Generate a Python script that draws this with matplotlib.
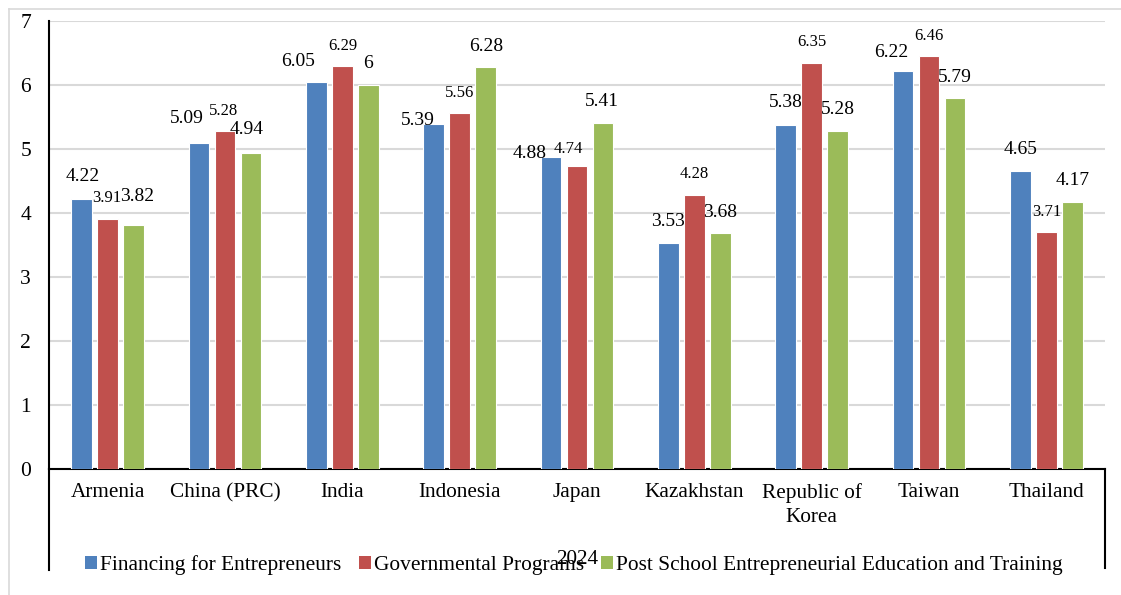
import matplotlib
matplotlib.use("Agg")
import matplotlib.pyplot as plt
import numpy as np
from matplotlib.lines import Line2D
from matplotlib.patches import Patch

categories = ["Armenia", "China (PRC)", "India", "Indonesia", "Japan",
              "Kazakhstan", "Republic of\nKorea", "Taiwan", "Thailand"]
financing = [4.22, 5.09, 6.05, 5.39, 4.88, 3.53, 5.38, 6.22, 4.65]
government = [3.91, 5.28, 6.29, 5.56, 4.74, 4.28, 6.35, 6.46, 3.71]
education = [3.82, 4.94, 6.00, 6.28, 5.41, 3.68, 5.28, 5.79, 4.17]
series_names = ["Financing for Entrepreneurs", "Governmental Programs",
                "Post School Entrepreneurial Education and Training"]
year_label = "2024"

colors = ["#4F81BD", "#C0504D", "#9BBB59"]
label_sizes = [14, 12, 14]
# manual nudges of the data labels (pixels, relative to the bar top centre)
label_dx = [[1, -12, -18, -16, -21, 0, 0, -12, 0],
            [-1, -1, 0, 0, -9, 0, 0, 0, 0],
            [3, -4, 0, 0, -1, 0, 0, 0, 0]]
label_dy = [[22, 25, 20, 4, 3, 22, 22, 18, 22],
            [21, 20, 20, 20, 17, 21, 21, 20, 20],
            [28, 23, 21, 21, 21, 21, 22, 21, 22]]

plt.rcParams["font.family"] = ["Liberation Serif", "DejaVu Serif"]

fig = plt.figure(figsize=(11.21, 5.95), dpi=100)
ax = fig.add_axes([49 / 1121, 126 / 595, 1056 / 1121, 448 / 595])

x = np.arange(len(categories))
width = 0.175
step = 0.222
for i, vals in enumerate([financing, government, education]):
    pos = x + (i - 1) * step
    ax.bar(pos, vals, width=width, color=colors[i], edgecolor="white",
           linewidth=0.8, zorder=3)
    for j, v in enumerate(vals):
        ax.annotate(f"{v:g}", (pos[j], v), xytext=(label_dx[i][j], label_dy[i][j]),
                    textcoords="offset pixels", ha="center", va="center",
                    fontsize=label_sizes[i], color="black")

ax.set_xlim(-0.5, len(categories) - 0.5)
ax.set_ylim(0, 7)
ax.set_yticks(range(8))
ax.yaxis.grid(True, color="#D9D9D9", linewidth=1.5, zorder=0)
ax.set_axisbelow(True)
ax.tick_params(axis="y", length=0, pad=13, labelsize=15.5)
ax.tick_params(axis="x", length=0, pad=10, labelsize=15.3)
ax.set_xticks(x)
ax.set_xticklabels(categories, linespacing=1.4)

for s in ["top", "right"]:
    ax.spines[s].set_visible(False)
ax.spines["left"].set_linewidth(1.5)
ax.spines["bottom"].set_linewidth(1.5)

# category box lines extending below the axis
ax.add_line(Line2D([0, 0], [0, -0.225], transform=ax.transAxes, color="black",
                   linewidth=1.5, clip_on=False))
ax.add_line(Line2D([1, 1], [0, -0.221], transform=ax.transAxes, color="black",
                   linewidth=1.5, clip_on=False))

fig.text(577 / 1121, (595 - 559) / 595, year_label, ha="center", va="center", fontsize=15.3)

handles = [Patch(facecolor=c, edgecolor="none") for c in colors]
fig.legend(handles, series_names, loc="center", ncol=3, frameon=False,
           bbox_to_anchor=(574 / 1121, 30 / 595), fontsize=15.4,
           handlelength=0.55, handleheight=0.55, handletextpad=0.15,
           columnspacing=0.8)

# light outer border (top and left)
fig.add_artist(Line2D([9 / 1121, 1], [1 - 9 / 595, 1 - 9 / 595], transform=fig.transFigure,
                      color="#D9D9D9", linewidth=1.2))
fig.add_artist(Line2D([9 / 1121, 9 / 1121], [0, 1 - 9 / 595], transform=fig.transFigure,
                      color="#D9D9D9", linewidth=1.2))

fig.savefig("out.png", dpi=100)
